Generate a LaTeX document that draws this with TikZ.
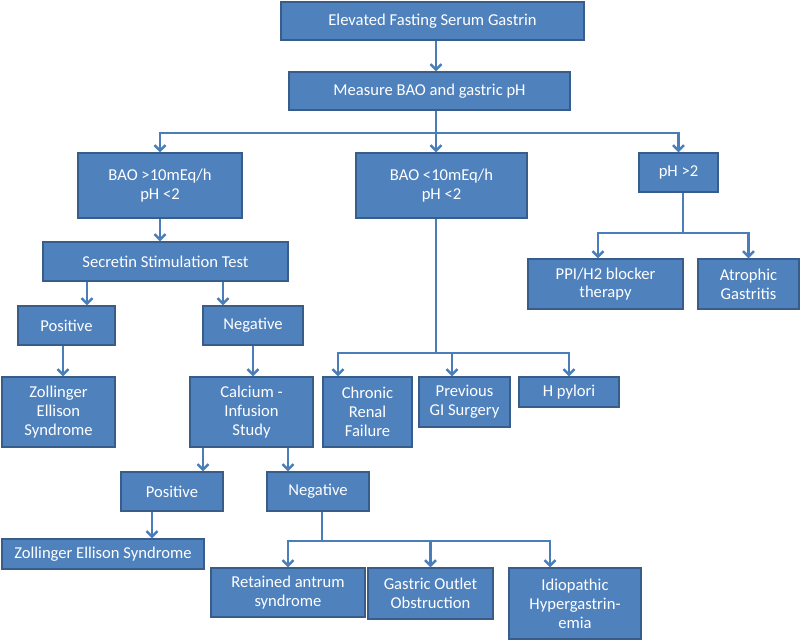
\documentclass[tikz,border=0pt]{standalone}
\usepackage{fontspec}
\setmainfont{Carlito}
\usepackage{tikz}
\usetikzlibrary{arrows.meta, positioning, calc}
\definecolor{boxblue}{HTML}{4F81BD}
\definecolor{boxline}{HTML}{385D8A}
\definecolor{linkblue}{HTML}{4A7EBB}
\begin{document}
\begin{tikzpicture}[x=1pt, y=-1pt,
  box/.style={rectangle, draw=boxline, line width=1.1pt, fill=boxblue, text=white, align=center, inner sep=1pt, font=\fontsize{16.6}{18.8}\selectfont},
  link/.style={draw=linkblue, line width=2.5pt},
  arrow/.style={link, -{Straight Barb[length=5.5pt, width=11pt]}}
]
\useasboundingbox (0,0) rectangle (800,641);
% top of the chart
\node[box, minimum width=303pt, minimum height=38pt] (fsg) at (432.5,21) {Elevated Fasting Serum Gastrin};
\node[box, minimum width=281pt, minimum height=38pt] (measure) at (429.5,91) {Measure BAO and gastric pH};
\node[box, minimum width=164pt, minimum height=65pt] (baohi) at (160,185.5) {BAO >10mEq/h\\pH <2};
\node[box, minimum width=171pt, minimum height=65pt] (baolo) at (441.5,185.5) {BAO <10mEq/h\\pH <2};
\node[box, minimum width=79pt, minimum height=39pt] (phhi) at (678.5,172.5) {pH >2};
% pH > 2 branch
\node[box, minimum width=155pt, minimum height=50pt] (ppi) at (605.5,284) {PPI/H2 blocker\\therapy};
\node[box, minimum width=101pt, minimum height=50pt] (atro) at (748.5,284) {Atrophic\\Gastritis};
% BAO > 10 branch
\node[box, minimum width=245pt, minimum height=39pt] (secr) at (165.5,261.5) {Secretin Stimulation Test};
\node[box, minimum width=97pt, minimum height=39pt] (posa) at (66.5,325.5) {Positive};
\node[box, minimum width=100pt, minimum height=39pt] (nega) at (253,325.5) {Negative};
\node[box, minimum width=113pt, minimum height=70pt] (zesa) at (58.5,412) {Zollinger\\Ellison\\Syndrome};
\node[box, minimum width=123pt, minimum height=70pt] (calc) at (251.5,412) {Calcium -\\Infusion\\Study};
\node[box, minimum width=102pt, minimum height=39pt] (posb) at (172,491.5) {Positive};
\node[box, minimum width=102pt, minimum height=39pt] (negb) at (318,491.5) {Negative};
\node[box, minimum width=202pt, minimum height=30pt] (zesb) at (103,554) {Zollinger Ellison Syndrome};
\node[box, minimum width=154pt, minimum height=49pt] (antrum) at (288,592.5) {Retained antrum\\syndrome};
\node[box, minimum width=125pt, minimum height=51pt] (outlet) at (430.5,593.5) {Gastric Outlet\\Obstruction};
\node[box, minimum width=132pt, minimum height=71pt] (idio) at (575,603.5) {Idiopathic\\Hypergastrin-\\emia};
% BAO < 10 branch
\node[box, minimum width=89pt, minimum height=70pt] (renal) at (367.5,412) {Chronic\\Renal\\Failure};
\node[box, minimum width=91pt, minimum height=50pt] (gisurg) at (464.5,402) {Previous\\GI Surgery};
\node[box, minimum width=100pt, minimum height=30pt] (hpy) at (569,392) {H pylori};
% junctions
\coordinate (jtop) at (436,133);
\coordinate (jph) at (683,233);
\coordinate (jlo) at (436,353);
\coordinate (jneg) at (322,541);
% connectors
\draw[arrow] (fsg.south -| jtop) -- (measure.north -| jtop);
\draw[arrow] (measure.south -| jtop) -- (baolo.north -| jtop);
\draw[arrow] (jtop) -| (baohi.north);
\draw[arrow] (jtop) -| (phhi.north);
\draw[link] (phhi.south -| jph) -- (jph);
\draw[arrow] (jph) -| ([xshift=-7.5pt]ppi.north);
\draw[arrow] (jph) -| (atro.north);
\draw[link] (baolo.south -| jlo) -- (jlo);
\draw[arrow] (jlo) -| ([xshift=-29.5pt]renal.north);
\draw[arrow] (jlo) -| ([xshift=-12.5pt]gisurg.north);
\draw[arrow] (jlo) -| (hpy.north);
\foreach \p/\c/\dx in {baohi/secr/-5.5, secr/posa/20.5, secr/nega/-30, posa/zesa/4.5, nega/calc/1.5, calc/posb/31, calc/negb/-30, posb/zesb/49}
  \draw[arrow] ([xshift=\dx pt]\c.north |- \p.south) -- ([xshift=\dx pt]\c.north);
\draw[link] (negb.south -| jneg) -- (jneg);
\draw[arrow] (jneg) -| (antrum.north);
\draw[arrow] (jneg) -| (outlet.north);
\draw[arrow] (jneg) -| ([xshift=-25pt]idio.north);
\end{tikzpicture}
\end{document}
